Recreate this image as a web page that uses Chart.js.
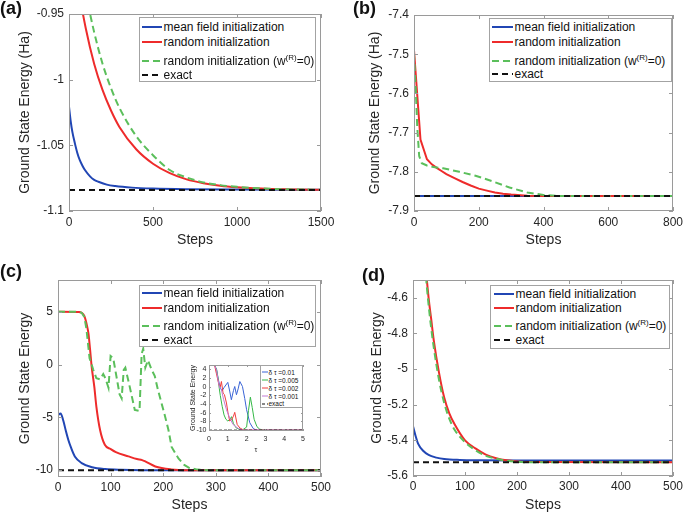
<!DOCTYPE html>
<html>
<head>
<meta charset="utf-8">
<script src="https://cdn.jsdelivr.net/npm/chart.js@4.4.1/dist/chart.umd.min.js"></script>
<style>
    body { margin: 0; background: #fff; }
    #fig { position: relative; width: 685px; height: 514px; overflow: hidden; font-family: "Liberation Sans", Arial, Helvetica, sans-serif; }
    #fig canvas { position: absolute; }
    .tag { position: absolute; font-weight: bold; font-size: 18px; line-height: 18px; color: #111; }
    .lg { position: absolute; border: 1px solid #a3a3a3; background: #fff; box-sizing: border-box; }
    .lg .row { position: absolute; display: flex; align-items: center; white-space: nowrap; color: #111; }
    .lg svg { flex: none; }
    .lg sup { font-size: 8px; line-height: 0; vertical-align: 5px; }
</style>
</head>
<body>
<div id="fig">
    <canvas id="chartA" width="340" height="257" style="left:0;top:0"></canvas>
    <canvas id="chartB" width="345" height="257" style="left:340px;top:0"></canvas>
    <canvas id="chartC" width="340" height="257" style="left:0;top:257px"></canvas>
    <canvas id="chartD" width="345" height="257" style="left:340px;top:257px"></canvas>
    <canvas id="chartInset" width="130" height="95" style="left:180px;top:360px"></canvas>
    <div class="tag" style="left:0;top:-1px">(a)</div>
    <div class="tag" style="left:353px;top:-1px">(b)</div>
    <div class="tag" style="left:0;top:262px">(c)</div>
    <div class="tag" style="left:362px;top:266px">(d)</div>
</div>
<script>
// Legend labels shared by the four main panels
const legendLabels = ["mean field initialization", "random initialization", "random initialization (w<sup>(R)</sup>=0)", "exact"];
const seriesNames = ["mean field initialization", "random initialization", "random initialization (w(R)=0)", "exact"];

// Panel (a)
const aXTicks = [0, 500, 1000, 1500];
const aYTicks = [-1.1, -1.05, -1, -0.95];
const aMeanSteps = [0, 10, 20, 35, 50, 65, 80, 95, 125, 150, 175, 225, 275, 375, 500, 700, 1000, 1500];
const aMeanE = [-1.0206, -1.0316, -1.0398, -1.0485, -1.056, -1.0615, -1.0655, -1.0688, -1.0736, -1.0763, -1.0777, -1.0799, -1.0810, -1.0822, -1.0829, -1.0834, -1.0837, -1.0839];
const aRandSteps = [0, 50, 100, 150, 200, 250, 300, 400, 500, 600, 700, 800, 900, 1000, 1100, 1200, 1350, 1500];
const aRandE = [-0.881, -0.926, -0.961, -0.988, -1.008, -1.0235, -1.036, -1.053, -1.064, -1.0712, -1.0759, -1.0788, -1.0807, -1.0819, -1.0827, -1.0832, -1.0836, -1.0838];
const aRandW0Steps = [0, 50, 100, 150, 200, 250, 300, 400, 500, 600, 700, 800, 900, 1000, 1100, 1200, 1350, 1500];
const aRandW0E = [-0.86, -0.90, -0.934, -0.964, -0.988, -1.0065, -1.0214, -1.043, -1.0575, -1.0688, -1.0745, -1.0782, -1.0803, -1.0816, -1.0825, -1.0831, -1.0836, -1.0838];
const aExactSteps = [0, 1500];
const aExactE = [-1.084, -1.084];

// Panel (b)
const bXTicks = [0, 200, 400, 600, 800];
const bYTicks = [-7.9, -7.8, -7.7, -7.6, -7.5, -7.4];
const bMeanSteps = [0, 800];
const bMeanE = [-7.862, -7.862];
const bRandSteps = [0, 20, 40, 55, 70, 85, 100, 125, 150, 175, 200, 225, 250, 275, 300, 350, 400, 800];
const bRandE = [-7.49, -7.718, -7.768, -7.781, -7.790, -7.798, -7.806, -7.816, -7.826, -7.835, -7.843, -7.848, -7.853, -7.856, -7.858, -7.861, -7.862, -7.862];
const bRandW0Steps = [0, 6, 10, 16, 24, 40, 60, 90, 140, 190, 245, 295, 350, 400, 450, 500, 800];
const bRandW0E = [-7.497, -7.60, -7.685, -7.76, -7.778, -7.784, -7.788, -7.791, -7.800, -7.810, -7.825, -7.840, -7.853, -7.859, -7.8615, -7.862, -7.862];
const bExactSteps = [0, 800];
const bExactE = [-7.862, -7.862];

// Panel (c)
const cXTicks = [0, 100, 200, 300, 400, 500];
const cYTicks = [-10, -5, 0, 5];
const cMeanSteps = [0, 5, 10, 15, 20, 25, 32, 45, 65, 90, 120, 160, 500];
const cMeanE = [-4.8, -4.65, -5.3, -6.3, -7.2, -7.9, -8.7, -9.33, -9.72, -9.9, -9.97, -10.0, -10.0];
const cRandSteps = [0, 40, 45, 50, 55, 58, 61, 64, 69, 73, 80, 89, 100, 110, 134, 150, 160, 165, 185, 215, 250, 500];
const cRandE = [5.0, 4.98, 4.9, 4.6, 3.7, 2.9, 1.4, -0.2, -2.1, -4.0, -6.2, -7.6, -8.0, -8.3, -8.7, -8.95, -9.05, -9.15, -9.65, -9.93, -10.0, -10.0];
const cRandW0Steps = [0, 40, 45, 50, 54, 57, 60, 64, 67, 73, 80, 86, 90, 96, 100, 105, 111, 117, 121, 125, 128, 135, 146, 155, 159, 162, 166, 171, 178, 184, 190, 203, 210, 216, 229, 240, 250, 265, 285, 500];
const cRandW0E = [5.0, 4.98, 4.9, 4.5, 3.4, 2.0, 0.6, 0.0, -0.5, -1.3, -1.4, -0.9, -1.3, -2.2, 0.8, 0.6, -1.1, -2.8, -3.2, -0.5, -0.3, -1.8, -4.3, -4.4, 1.0, 1.5, -0.3, 0.4, -0.5, -1.1, -2.4, -4.8, -6.2, -7.8, -8.9, -9.5, -9.8, -9.95, -10.0, -10.0];
const cExactSteps = [0, 500];
const cExactE = [-10, -10];

// Panel (c) inset: energy against imaginary time tau for several step sizes
const iXTicks = [0, 1, 2, 3, 4, 5];
const iYTicks = [-10, -8, -6, -4, -2, 0, 2, 4];
const iNames = ["δ τ =0.01", "δ τ =0.005", "δ τ =0.002", "δ τ =0.001", "exact"];
const iTau01 = [0, 0.3, 0.4, 0.48, 0.6, 0.7, 0.8, 1.0, 1.1, 1.19, 1.3, 1.37, 1.46, 1.55, 1.64, 1.78, 1.9, 2.0, 2.17, 2.35, 2.5, 5];
const iE01 = [5, 4.9, 4.0, 2.0, -0.3, -0.9, -0.2, 1.0, -1.0, -3.0, -0.9, 0.05, -1.85, -0.5, 1.2, 0.05, -2.7, -5.3, -8.3, -9.6, -10, -10];
const iTau005 = [0, 0.3, 0.4, 0.48, 0.55, 0.6, 0.7, 0.8, 0.9, 1.0, 1.1, 1.2, 1.3, 1.45, 1.6, 1.8, 2.0, 2.1, 2.2, 2.3, 2.4, 2.55, 2.7, 3.0, 5];
const iE005 = [5, 4.9, 4.0, 2.0, -0.5, -2.0, -4.5, -6.5, -7.5, -7.9, -7.6, -6.9, -8.5, -9.5, -9.8, -9.9, -9.3, -5.5, -2.4, -4.8, -7.5, -9.2, -9.8, -10, -10];
const iTau002 = [0, 0.3, 0.39, 0.53, 0.6, 0.66, 0.75, 0.82, 0.93, 1.01, 1.1, 1.2, 1.3, 1.37, 1.43, 1.5, 1.64, 1.85, 5];
const iE002 = [5, 4.9, 3.1, 0.4, 0.0, 1.2, -1.5, -1.8, -3.75, -6.0, -7.9, -7.6, -6.8, -5.9, -7.2, -8.7, -9.5, -10, -10];
const iTau001 = [0, 0.3, 0.4, 0.48, 0.57, 0.66, 0.78, 0.93, 1.1, 1.28, 1.55, 1.8, 5];
const iE001 = [5, 4.9, 3.8, 1.6, -0.3, -0.7, -3.0, -5.3, -7.2, -8.7, -9.6, -10, -10];
const iExactTau = [0, 5];
const iExactE = [-10, -10];

// Panel (d)
const dXTicks = [0, 100, 200, 300, 400, 500];
const dYTicks = [-5.6, -5.4, -5.2, -5, -4.8, -4.6];
const dMeanSteps = [0, 5, 10, 20, 30, 45, 60, 90, 130, 200, 500];
const dMeanE = [-5.321, -5.375, -5.42, -5.46, -5.482, -5.497, -5.505, -5.510, -5.512, -5.513, -5.513];
const dRandSteps = [0, 10, 20, 25, 30, 35, 40, 50, 60, 70, 80, 100, 120, 140, 160, 180, 200, 230, 500];
const dRandE = [-3.0, -3.6, -4.2, -4.44, -4.60, -4.72, -4.84, -5.02, -5.16, -5.25, -5.31, -5.40, -5.445, -5.48, -5.50, -5.512, -5.518, -5.522, -5.523];
const dRandW0Steps = [0, 10, 20, 25, 30, 35, 40, 50, 60, 70, 80, 100, 120, 140, 160, 180, 200, 230, 500];
const dRandW0E = [-3.0, -3.65, -4.25, -4.48, -4.64, -4.77, -4.88, -5.06, -5.19, -5.28, -5.34, -5.41, -5.455, -5.487, -5.503, -5.514, -5.52, -5.523, -5.523];
const dExactSteps = [0, 500];
const dExactE = [-5.523, -5.523];


Chart.defaults.font.family = '"Liberation Sans", Arial, Helvetica, sans-serif';
Chart.defaults.color = '#262626';

const STYLE = {
    mean: { borderColor: '#2146b4', borderWidth: 2, order: 3 },
    rand: { borderColor: '#ee2b2b', borderWidth: 2, order: 2 },
    randW0: { borderColor: '#5bbf5b', borderWidth: 2, borderDash: [7, 4], order: 1 },
    exact: { borderColor: '#111111', borderWidth: 2, borderDash: [6, 4], order: 0 },
    i01: { borderColor: '#3a64d6', borderWidth: 1, order: 4 },
    i005: { borderColor: '#35b847', borderWidth: 1, order: 3 },
    i002: { borderColor: '#f03c3c', borderWidth: 1, order: 2 },
    i001: { borderColor: '#c47ad4', borderWidth: 1, order: 1 },
    iExact: { borderColor: '#111111', borderWidth: 1, borderDash: [3, 2], order: 0 }
};

// Plugin that draws the MATLAB style box with inward ticks on all four sides
const boxPlugin = {
    id: 'matlabBox',
    afterDatasetsDraw(chart, args, opts) {
        const { ctx, chartArea: a, scales: { x, y } } = chart;
        const t = opts.tick || 4;
        ctx.save();
        ctx.strokeStyle = '#9a9a9a';
        ctx.lineWidth = 1;
        ctx.beginPath();
        x.ticks.forEach(tk => {
            const px = Math.round(x.getPixelForValue(tk.value)) + 0.5;
            ctx.moveTo(px, a.bottom); ctx.lineTo(px, a.bottom - t);
            ctx.moveTo(px, a.top); ctx.lineTo(px, a.top + t);
        });
        y.ticks.forEach(tk => {
            const py = Math.round(y.getPixelForValue(tk.value)) + 0.5;
            ctx.moveTo(a.left, py); ctx.lineTo(a.left + t, py);
            ctx.moveTo(a.right, py); ctx.lineTo(a.right - t, py);
        });
        ctx.stroke();
        ctx.strokeRect(Math.round(a.left) + 0.5, Math.round(a.top) + 0.5, Math.round(a.width) - 1, Math.round(a.height) - 1);
        ctx.restore();
    }
};

// Function to turn two arrays into one line dataset
function series(label, xs, ys, style, smooth) {
    return Object.assign({
        label: label,
        data: xs.map((x, i) => ({ x: x, y: ys[i] })),
        pointRadius: 0,
        fill: false,
        clip: 0,
        tension: 0,
        capBezierPoints: false,
        cubicInterpolationMode: smooth ? 'monotone' : 'default'
    }, style);
}

const tickLabel = v => String(+v.toFixed(4));

// Function to build one panel with fixed axis sizes so the plot area lands where it should
function makePanel(id, p) {
    return new Chart(document.getElementById(id), {
        type: 'line',
        data: { datasets: p.series },
        options: {
            responsive: false,
            animation: false,
            events: [],
            layout: { padding: { left: 0, top: p.padTop, right: p.padRight, bottom: 0 } },
            plugins: {
                legend: { display: false },
                tooltip: { enabled: false },
                matlabBox: { tick: p.tick }
            },
            scales: {
                x: {
                    type: 'linear',
                    min: p.xMin,
                    max: p.xMax,
                    afterBuildTicks: s => { s.ticks = p.xTicks.map(v => ({ value: v })); },
                    afterFit: s => { s.height = p.xH; s.paddingLeft = 0; s.paddingRight = 0; },
                    grid: { display: false, drawTicks: false },
                    border: { display: false },
                    ticks: { padding: p.xTickPad, autoSkip: false, maxRotation: 0, font: { size: p.tickFont }, callback: tickLabel },
                    title: { display: true, text: p.xTitle, font: { size: p.titleFont }, padding: { top: 0, bottom: p.xTitlePad } }
                },
                y: {
                    type: 'linear',
                    min: p.yMin,
                    max: p.yMax,
                    afterBuildTicks: s => { s.ticks = p.yTicks.map(v => ({ value: v })); },
                    afterFit: s => { s.width = p.yW; s.paddingTop = 0; s.paddingBottom = 0; },
                    grid: { display: false, drawTicks: false },
                    border: { display: false },
                    ticks: { padding: p.yTickPad, autoSkip: false, font: { size: p.tickFont }, callback: tickLabel },
                    title: { display: true, text: p.yTitle, font: { size: p.titleFont }, padding: { top: p.yTitlePad, bottom: 0 } }
                }
            }
        },
        plugins: [boxPlugin]
    });
}

// Function to add a boxed legend built from the chart's own datasets
function addLegend(chart, labels, o) {
    const lg = document.createElement('div');
    lg.className = 'lg';
    lg.style.cssText = `left:${o.box[0]}px;top:${o.box[1]}px;width:${o.box[2]}px;height:${o.box[3]}px;font-size:${o.font}px`;
    chart.data.datasets.forEach((ds, i) => {
        const row = document.createElement('div');
        row.className = 'row';
        row.style.left = (o.sampleX - 1) + 'px';
        row.style.top = (o.rows[i] - 1 - o.rowH / 2) + 'px';
        row.style.height = o.rowH + 'px';
        const dash = ds.borderDash ? ds.borderDash.join(' ') : 'none';
        row.innerHTML = `<svg width="${o.sampleW}" height="4" style="margin-right:${o.gap}px"><line x1="0" y1="2" x2="${o.sampleW}" y2="2" stroke="${ds.borderColor}" stroke-width="${ds.borderWidth}" stroke-dasharray="${dash}"/></svg><span>${labels[i]}</span>`;
        lg.appendChild(row);
    });
    document.getElementById('fig').appendChild(lg);
}

const common = { tickFont: 12, titleFont: 14, yTickPad: 5, tick: 4, xTitle: 'Steps' };

const chartA = makePanel('chartA', Object.assign({}, common, {
    series: [
        series(seriesNames[0], aMeanSteps, aMeanE, STYLE.mean, true),
        series(seriesNames[1], aRandSteps, aRandE, STYLE.rand, true),
        series(seriesNames[2], aRandW0Steps, aRandW0E, STYLE.randW0, true),
        series(seriesNames[3], aExactSteps, aExactE, STYLE.exact, false)
    ],
    xMin: 0, xMax: 1500, yMin: -1.1, yMax: -0.95, xTicks: aXTicks, yTicks: aYTicks,
    yW: 69, xH: 46, padTop: 14, padRight: 19, xTickPad: 4, xTitlePad: 8.6,
    yTitle: 'Ground State Energy (Ha)', yTitlePad: 16.6
}));

const chartB = makePanel('chartB', Object.assign({}, common, {
    series: [
        series(seriesNames[0], bMeanSteps, bMeanE, STYLE.mean, false),
        series(seriesNames[1], bRandSteps, bRandE, STYLE.rand, false),
        series(seriesNames[2], bRandW0Steps, bRandW0E, STYLE.randW0, false),
        series(seriesNames[3], bExactSteps, bExactE, STYLE.exact, false)
    ],
    xMin: 0, xMax: 800, yMin: -7.9, yMax: -7.4, xTicks: bXTicks, yTicks: bYTicks,
    yW: 74, xH: 46, padTop: 15, padRight: 12, xTickPad: 4, xTitlePad: 8.6,
    yTitle: 'Ground State Energy (Ha)', yTitlePad: 26.6
}));

const chartC = makePanel('chartC', Object.assign({}, common, {
    series: [
        series(seriesNames[0], cMeanSteps, cMeanE, STYLE.mean, true),
        series(seriesNames[1], cRandSteps, cRandE, STYLE.rand, true),
        series(seriesNames[2], cRandW0Steps, cRandW0E, STYLE.randW0, false),
        series(seriesNames[3], cExactSteps, cExactE, STYLE.exact, false)
    ],
    xMin: 0, xMax: 500, yMin: -10.65, yMax: 8, xTicks: cXTicks, yTicks: cYTicks,
    yW: 58, xH: 37, padTop: 23, padRight: 19, xTickPad: 3, xTitlePad: 0.6,
    yTitle: 'Ground State Energy', yTitlePad: 16.6
}));

const chartD = makePanel('chartD', Object.assign({}, common, {
    series: [
        series(seriesNames[0], dMeanSteps, dMeanE, STYLE.mean, true),
        series(seriesNames[1], dRandSteps, dRandE, STYLE.rand, true),
        series(seriesNames[2], dRandW0Steps, dRandW0E, STYLE.randW0, true),
        series(seriesNames[3], dExactSteps, dExactE, STYLE.exact, false)
    ],
    xMin: 0, xMax: 500, yMin: -5.6, yMax: -4.5, xTicks: dXTicks, yTicks: dYTicks,
    yW: 73, xH: 38, padTop: 23, padRight: 12, xTickPad: 3, xTitlePad: 0.6,
    yTitle: 'Ground State Energy', yTitlePad: 28.3
}));

const chartInset = makePanel('chartInset', {
    series: [
        series(iNames[0], iTau01, iE01, STYLE.i01, false),
        series(iNames[1], iTau005, iE005, STYLE.i005, false),
        series(iNames[2], iTau002, iE002, STYLE.i002, false),
        series(iNames[3], iTau001, iE001, STYLE.i001, false),
        series(iNames[4], iExactTau, iExactE, STYLE.iExact, false)
    ],
    xMin: 0, xMax: 5, yMin: -10.2, yMax: 5, xTicks: iXTicks, yTicks: iYTicks,
    yW: 29, xH: 24, padTop: 5, padRight: 7, tickFont: 7, titleFont: 7, xTickPad: 4, yTickPad: 2.5, tick: 2,
    xTitle: 'τ', xTitlePad: 1.1, yTitle: 'Ground State Energy', yTitlePad: 8.5
});

addLegend(chartA, legendLabels, { box: [139, 17, 177, 65], rows: [10, 25, 43.7, 58], rowH: 16, sampleX: 3, sampleW: 20, gap: 1.5, font: 12 });
addLegend(chartB, legendLabels, { box: [489, 18, 183, 64], rows: [9, 24, 43, 56], rowH: 16, sampleX: 3, sampleW: 21, gap: 1.5, font: 12 });
addLegend(chartC, legendLabels, { box: [139, 285, 177, 62], rows: [8, 23, 41, 55], rowH: 16, sampleX: 3, sampleW: 20, gap: 1.5, font: 12 });
addLegend(chartD, legendLabels, { box: [490, 285, 180, 64], rows: [9, 23, 41, 55], rowH: 16, sampleX: 4, sampleW: 20, gap: 1.5, font: 12 });
addLegend(chartInset, iNames, { box: [260, 365, 43, 43], rows: [7, 15, 23, 31, 38.5], rowH: 8, sampleX: 1.5, sampleW: 6, gap: 1, font: 6.5 });
</script>
</body>
</html>
